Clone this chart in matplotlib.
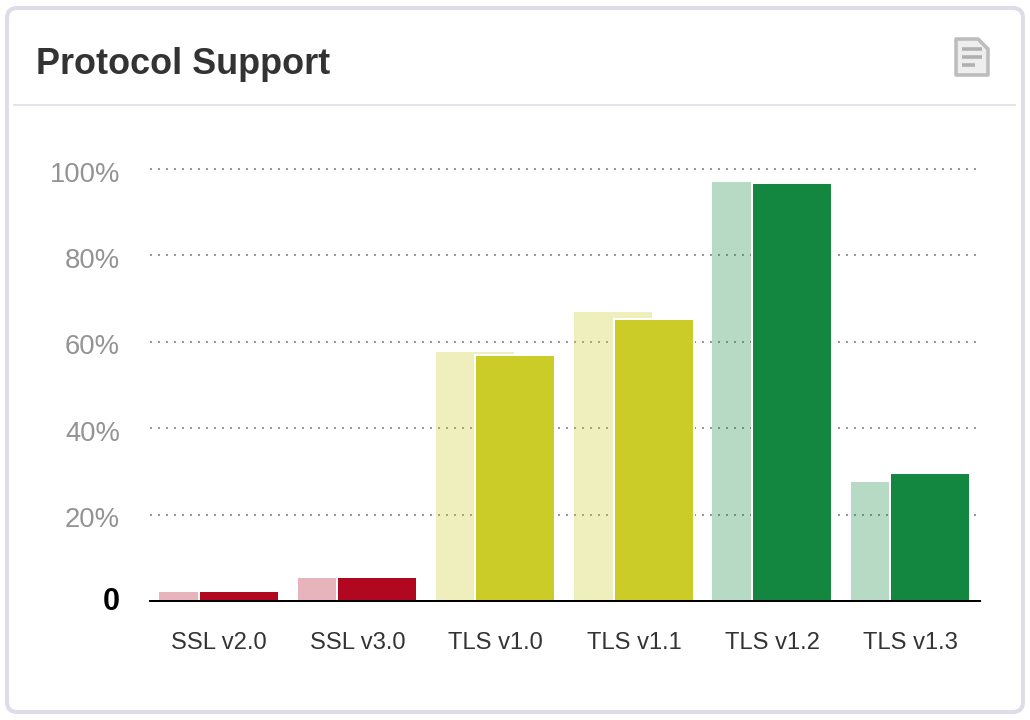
"""
Protocol support card: paired bars per SSL/TLS version on a rounded panel.
"""

import matplotlib

matplotlib.use("Agg")

import matplotlib.pyplot as plt
from matplotlib.patches import FancyBboxPatch, Polygon
from matplotlib.transforms import ScaledTranslation

protocols = ["SSL v2.0", "SSL v3.0", "TLS v1.0", "TLS v1.1", "TLS v1.2", "TLS v1.3"]
previous_support = [2.1, 5.3, 57.6, 66.9, 97.0, 27.5]
current_support = [2.3, 5.6, 56.9, 65.3, 96.8, 29.6]
y_ticks = [0, 20, 40, 60, 80, 100]
y_tick_labels = ["0", "20%", "40%", "60%", "80%", "100%"]

bar_colors = ["#b10820", "#b10820", "#cccc29", "#cccc29", "#138640", "#138640"]
FONT = "Liberation Sans"
PANEL_EDGE = "#dddde9"
PX = 0.72  # points per pixel at dpi 100

plt.rcParams["font.family"] = [FONT, "DejaVu Sans"]

fig = plt.figure(figsize=(10.3, 7.2), dpi=100, facecolor="white")

# Panel layer, in pixel coordinates
bg = fig.add_axes([0, 0, 1, 1], zorder=0)
bg.set_xlim(0, 1030)
bg.set_ylim(720, 0)
bg.axis("off")

bg.add_patch(FancyBboxPatch(
    (15, 16), 1000, 688,
    boxstyle="round,pad=8,rounding_size=10",
    facecolor="white", edgecolor=PANEL_EDGE, linewidth=4 * PX,
))
bg.plot([13, 1016], [105, 105], color=PANEL_EDGE, linewidth=1.6 * PX, solid_capstyle="butt")
bg.text(36, 74, "Protocol Support", fontsize=25.9, fontweight="bold",
        color="#333333", va="baseline", ha="left")

# Document icon in the header
bg.add_patch(Polygon(
    [(956, 39), (978, 39), (988, 49), (988, 75), (956, 75)],
    closed=True, facecolor="#eeeeee", edgecolor="#bdbdbd",
    linewidth=3.6 * PX, joinstyle="round",
))
for y, x_end in [(49, 982), (57, 982), (65, 975)]:
    bg.plot([962, x_end], [y, y], color="#b0b0b0", linewidth=3.6 * PX, solid_capstyle="butt")

# Chart layer: x runs 150-980 px, y=0 sits at 601 px, 4.32 px per percent
ax = fig.add_axes([150 / 1030, (720 - 601) / 720, 830 / 1030, 4.32 * 105 / 720], zorder=1)
ax.patch.set_alpha(0)
ax.set_xlim(-0.5, 5.5)
ax.set_ylim(0, 105)

positions = list(range(len(protocols)))
unit = 6 / 830  # data units per pixel

ax.bar(
    [p - 21 * unit for p in positions], previous_support,
    width=78 * unit, color=bar_colors, alpha=0.3, linewidth=0, zorder=3,
)
ax.bar(
    [p + 19.5 * unit for p in positions], current_support,
    width=80 * unit, color=bar_colors, edgecolor="white", linewidth=2 * PX, zorder=4,
)

ax.set_yticks(y_ticks)
ax.set_yticklabels(y_tick_labels)
ax.set_xticks(positions)
ax.set_xticklabels(protocols)

ax.yaxis.grid(True, color="#999999", linewidth=2 * PX, linestyle=(0, (1, 3)), zorder=1)
ax.xaxis.grid(False)
ax.set_axisbelow(True)

ax.tick_params(axis="both", length=0)
ax.tick_params(axis="x", pad=31 * PX, labelsize=17.1, labelcolor="#333333")
ax.tick_params(axis="y", pad=30 * PX, labelsize=19.7, labelcolor="#939393")

for label in ax.get_yticklabels():
    shift = ScaledTranslation(0, -2.5 / 100, fig.dpi_scale_trans)
    label.set_transform(label.get_transform() + shift)

zero_label = ax.get_yticklabels()[0]
zero_label.set_fontsize(22)
zero_label.set_fontweight("bold")
zero_label.set_color("#000000")
zero_label.set_transform(
    ax.get_yaxis_text1_transform(30 * PX)[0] + ScaledTranslation(0, 2 / 100, fig.dpi_scale_trans)
)

for side in ["top", "right", "left"]:
    ax.spines[side].set_visible(False)
ax.spines["bottom"].set_linewidth(2 * PX)
ax.spines["bottom"].set_color("#000000")
ax.spines["bottom"].set_zorder(5)

fig.savefig("out.png", dpi=100)
plt.close(fig)
